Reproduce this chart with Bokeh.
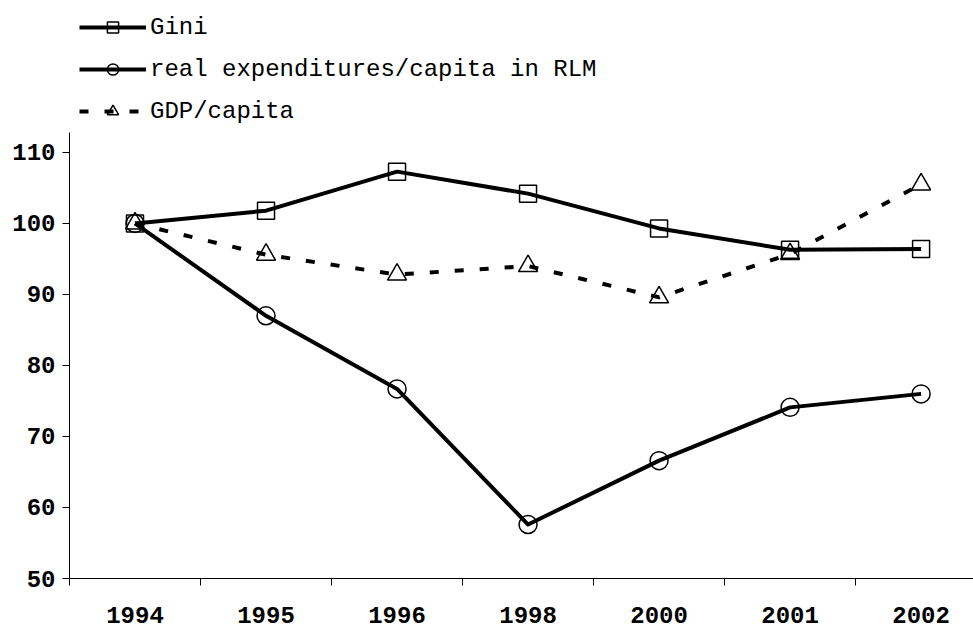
from bokeh.plotting import figure
from bokeh.models import Range1d, FixedTicker, Legend, LegendItem
from bokeh.embed import file_html
from bokeh.resources import INLINE

years = ["1994", "1995", "1996", "1998", "2000", "2001", "2002"]
gini = [100.0, 101.8, 107.3, 104.2, 99.3, 96.3, 96.4]
real_exp = [100.0, 87.0, 76.7, 57.6, 66.6, 74.1, 76.0]
gdp = [100.0, 95.6, 92.8, 94.0, 89.6, 95.7, 105.5]
y_ticks = [50, 60, 70, 80, 90, 100, 110]

x = list(range(len(years)))
FONT = "Liberation Mono"

# frame spans the full height above the x axis so the legend can sit inside it
p = figure(width=973, height=628, output_backend="svg", toolbar_location=None,
           x_range=Range1d(-0.5, 6.4), y_range=Range1d(50, 131.4),
           min_border_left=69, min_border_top=0, min_border_bottom=50,
           min_border_right=0, outline_line_color=None,
           background_fill_color="white", border_fill_color="white")
p.xgrid.visible = False
p.ygrid.visible = False

l1 = p.line(x, gini, line_width=4, line_color="black", line_join="round")
s1 = p.scatter(x, gini, marker="square", size=17, fill_color=None,
               line_color="black", line_width=1.5)
l2 = p.line(x, real_exp, line_width=4, line_color="black", line_join="round")
s2 = p.scatter(x, real_exp, marker="circle", size=18, fill_color=None,
               line_color="black", line_width=1.5)
l3 = p.line(x, gdp, line_width=4, line_color="black", line_dash="9 16")
s3 = p.scatter(x, gdp, marker="triangle", size=19, fill_color=None,
               line_color="black", line_width=1.5)

# x axis
xa = p.xaxis[0]
xa.ticker = FixedTicker(ticks=x, minor_ticks=[i - 0.5 for i in x])
xa.major_label_overrides = {i: yr for i, yr in zip(x, years)}
xa.major_tick_line_color = None
xa.major_tick_out = 0
xa.major_tick_in = 0
xa.minor_tick_line_color = "black"
xa.minor_tick_out = 7
xa.minor_tick_in = 0
xa.axis_line_color = "black"
xa.major_label_text_font = FONT
xa.major_label_text_font_style = "bold"
xa.major_label_text_font_size = "24px"
xa.major_label_text_color = "black"
xa.major_label_standoff = 21

# y axis (line limited to the value range of the chart)
ya = p.yaxis[0]
ya.ticker = FixedTicker(ticks=y_ticks, minor_ticks=[])
ya.bounds = (50, 112.8)
ya.major_tick_out = 7
ya.major_tick_in = 0
ya.major_tick_line_color = "black"
ya.minor_tick_line_color = None
ya.axis_line_color = "black"
ya.major_label_text_font = FONT
ya.major_label_text_font_style = "bold"
ya.major_label_text_font_size = "24px"
ya.major_label_text_color = "black"
ya.major_label_standoff = 7

legend = Legend(items=[
    LegendItem(label="Gini", renderers=[l1, s1]),
    LegendItem(label="real expenditures/capita in RLM", renderers=[l2, s2]),
    LegendItem(label="GDP/capita", renderers=[l3, s3]),
], location=(10, 453), orientation="vertical", glyph_width=67, glyph_height=28,
    label_height=28, spacing=14, label_standoff=4, padding=0, margin=0,
    border_line_color=None, background_fill_alpha=0,
    label_text_font=FONT, label_text_font_size="24px", label_text_color="black")
p.add_layout(legend)

open("out.html", "w").write(file_html(p, INLINE))
